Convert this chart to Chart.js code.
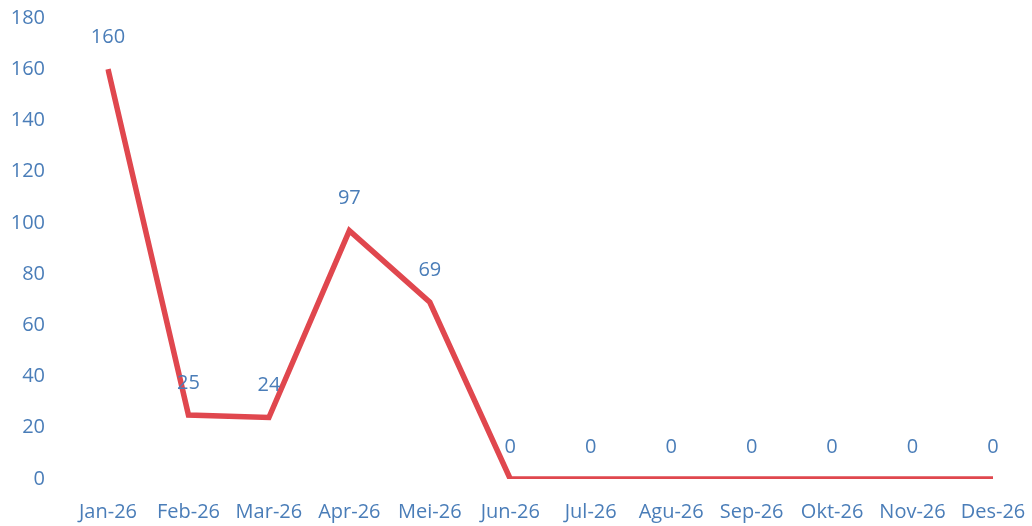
<!DOCTYPE html>
<html lang="id">
<head>
    <meta charset="UTF-8">
    <title>Chart 2026</title>
    <script src="https://cdn.jsdelivr.net/npm/chart.js"></script>
    <style>
        body {
            margin: 0;
            background: #ffffff;
        }
        #chart {
            display: block;
        }
    </style>
</head>
<body>
    <canvas id="chart" width="1032" height="526"></canvas>

    <script>
        const months = ['Jan-26', 'Feb-26', 'Mar-26', 'Apr-26', 'Mei-26', 'Jun-26',
                        'Jul-26', 'Agu-26', 'Sep-26', 'Okt-26', 'Nov-26', 'Des-26'];
        const values = [160, 25, 24, 97, 69, 0, 0, 0, 0, 0, 0, 0];
        const yTicks = [0, 20, 40, 60, 80, 100, 120, 140, 160, 180];

        const textColor = '#4a7db8';
        const fontFamily = '"Open Sans", "Noto Sans", sans-serif';

        // draws the number above each point (no datalabels plugin available)
        const pointLabels = {
            id: 'pointLabels',
            afterDatasetsDraw(chart) {
                const ctx = chart.ctx;
                const meta = chart.getDatasetMeta(0);
                ctx.save();
                ctx.fillStyle = textColor;
                ctx.font = '20px ' + fontFamily;
                ctx.textAlign = 'center';
                ctx.textBaseline = 'middle';
                meta.data.forEach((pt, i) => {
                    ctx.fillText(String(values[i]), pt.x, pt.y - 32);
                });
                ctx.restore();
            }
        };

        new Chart(document.getElementById('chart'), {
            type: 'line',
            data: {
                labels: months,
                datasets: [{
                    data: values,
                    borderColor: '#e0474e',
                    borderWidth: 5.5,
                    pointRadius: 0,
                    tension: 0,
                    fill: false
                }]
            },
            options: {
                responsive: false,
                animation: false,
                layout: {
                    padding: { top: 18, right: 39, left: 0, bottom: 0 }
                },
                plugins: {
                    legend: { display: false },
                    tooltip: { enabled: false }
                },
                scales: {
                    x: {
                        grid: { display: false, drawTicks: false },
                        border: { display: false },
                        ticks: {
                            color: textColor,
                            font: { size: 20, family: fontFamily },
                            padding: 21,
                            maxRotation: 0,
                            autoSkip: false
                        },
                        afterFit(scale) {
                            scale.height = 47;
                            scale.paddingLeft = 0;
                            scale.paddingRight = 0;
                        }
                    },
                    y: {
                        min: yTicks[0],
                        max: yTicks[yTicks.length - 1],
                        afterBuildTicks(scale) {
                            scale.ticks = yTicks.map(v => ({ value: v }));
                        },
                        grid: { display: false, drawTicks: false },
                        border: { display: false },
                        ticks: {
                            color: textColor,
                            font: { size: 20, family: fontFamily },
                            padding: 63
                        },
                        // big tick padding also pads top/bottom; undo that
                        afterFit(scale) {
                            scale.width = 108;
                            scale.paddingTop = 0;
                            scale.paddingBottom = 0;
                        }
                    }
                }
            },
            plugins: [pointLabels]
        });
    </script>
</body>
</html>
